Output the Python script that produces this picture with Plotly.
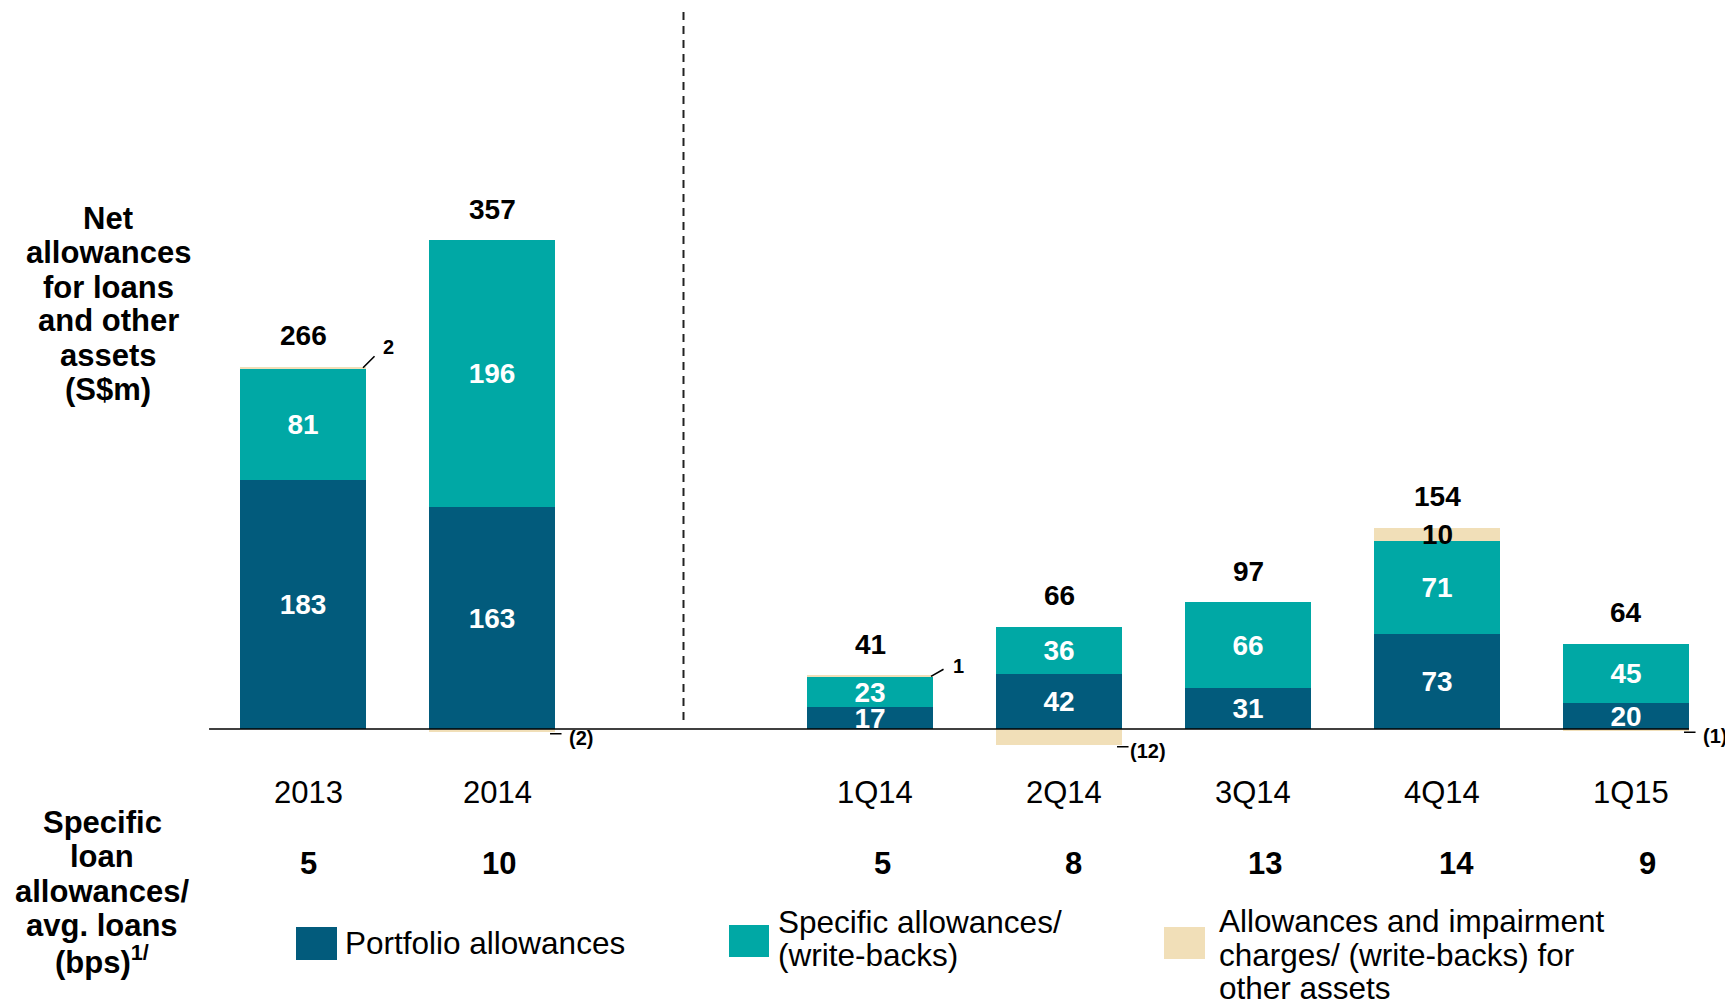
import plotly.graph_objects as go

# ---------------- data ----------------
periods = ["2013", "2014", "1Q14", "2Q14", "3Q14", "4Q14", "1Q15"]
slot = [0, 1, 3, 4, 5, 6, 7]          # column index; column 2 is the divider gap
portfolio = [183, 163, 17, 42, 31, 73, 20]
specific = [81, 196, 23, 36, 66, 71, 45]
other = [2, -2, 1, -12, 0, 10, -1]
totals = [266, 357, 41, 66, 97, 154, 64]
bps = [5, 10, 5, 8, 13, 14, 9]
n_annual = 2                            # first two periods are full years (own scale)
gap_slot = 2

legend_names = ["Portfolio allowances",
                "Specific allowances/<br>(write-backs)",
                "Allowances and impairment<br>charges/ (write-backs) for<br>other assets"]
title_lines = ["Net", "allowances", "for loans", "and other", "assets", "(S$m)"]
bps_title_lines = ["Specific", "loan", "allowances/", "avg. loans", "(bps)<sup>1/</sup>"]

# ---------------- style ----------------
BLUE = "#025B7C"
TEAL = "#00A8A5"
TAN = "#F1DFB8"
FONT = "Arial, 'Liberation Sans', Helvetica, sans-serif"
PAGE_W, PAGE_H = 1733, 1005
OFF = 8                                # default body margin of the page
W, H = PAGE_W - OFF, PAGE_H - OFF
X0_PAGE, SLOT_PX = 303.0, 189.0        # page pixel of slot 0 centre, pixels per slot
Y0_PAGE = 729.0                        # page pixel of the zero line
SCALE_ANNUAL, SCALE_QTR = 1.362, 1.308  # pixels per S$m
BAR_W = 0.667


def py(p):   # page pixel row -> paper y
    return 1 - (p - OFF) / H


def px(p):   # page pixel column -> paper x
    return (p - OFF) / W


def bold(s):
    return f"<b>{s}</b>"


groups = [(list(range(n_annual)), "y"), (list(range(n_annual, len(periods))), "y2")]

fig = go.Figure()
for values, name, color in [(portfolio, legend_names[0], BLUE),
                            (specific, legend_names[1], TEAL),
                            (other, legend_names[2], TAN)]:
    for idx, yax in groups:
        lab = color != TAN
        fig.add_bar(x=[slot[i] for i in idx], y=[values[i] for i in idx], yaxis=yax,
                    name=name, marker_color=color, marker_line_width=0, width=BAR_W,
                    text=[bold(values[i]) for i in idx] if lab else None,
                    textposition="inside" if lab else "none",
                    insidetextanchor="middle", textangle=0,
                    textfont=dict(color="white", size=28, family=FONT),
                    showlegend=False)

ann = []


def seg(x, y, yref, dx0, dy0, dx1, dy1):
    return dict(x=x, y=y, xref="x", yref=yref, xshift=dx0, yshift=-dy0,
                ax=dx1 - dx0, ay=dy1 - dy0, axref="pixel", ayref="pixel",
                text="", showarrow=True, arrowhead=0, arrowwidth=1.6,
                arrowcolor="black", standoff=0, startstandoff=0)


# leader styles for small positive "other" values: (line start, line end, text centre)
leader_pos = {"2013": ((-3, 1), (10, -12), (22, -20)),
              "1Q14": ((-2, 1), (12, -7), (25, -9))}

for i, (s, per, p, sp, o, t) in enumerate(zip(slot, periods, portfolio, specific, other, totals)):
    yref = "y" if i < n_annual else "y2"
    top = p + sp + max(o, 0)
    # total on top
    ann.append(dict(x=s, y=top, xref="x", yref=yref, text=bold(t), showarrow=False,
                    yanchor="middle", yshift=31, font=dict(size=28, color="black", family=FONT)))
    right = s + BAR_W / 2
    if o >= 5:
        ann.append(dict(x=s, y=p + sp + o / 2, xref="x", yref=yref, text=bold(o), showarrow=False,
                        yanchor="middle", font=dict(size=28, color="black", family=FONT)))
    elif o > 0:
        (a0, a1), (b0, b1), (c0, c1) = leader_pos.get(per, ((-2, 1), (11, -9), (23, -14)))
        ann.append(seg(right, top, yref, a0, a1, b0, b1))
        ann.append(dict(x=right, y=top, xref="x", yref=yref, text=bold(o), showarrow=False,
                        xanchor="center", yanchor="middle", xshift=c0, yshift=-c1,
                        font=dict(size=20, color="black", family=FONT)))
    elif o < 0:
        ann.append(seg(right, o, yref, -5, 2, 8, 2))
        ann.append(dict(x=right, y=o, xref="x", yref=yref, text=bold(f"({-o})"), showarrow=False,
                        xanchor="center", yanchor="middle", xshift=26, yshift=-6,
                        font=dict(size=20, color="black", family=FONT)))

# category labels and bps row
for s, lab, b in zip(slot, periods, bps):
    ann.append(dict(x=s, y=py(792), xref="x", yref="paper", text=lab, showarrow=False,
                    xshift=5, yanchor="middle", font=dict(size=31, color="black", family=FONT)))
    ann.append(dict(x=s, y=py(863), xref="x", yref="paper", text=bold(b), showarrow=False,
                    xshift=5 + 2.4 * s, yanchor="middle", font=dict(size=31, color="black", family=FONT)))

# left titles
for i, line in enumerate(title_lines):
    ann.append(dict(x=px(108), y=py(219 + 34 * i), xref="paper", yref="paper", text=bold(line),
                    showarrow=False, xanchor="center", yanchor="middle",
                    font=dict(size=31, color="black", family=FONT)))
for i, line in enumerate(bps_title_lines):
    ann.append(dict(x=px(102), y=py(822 + 34.5 * i), xref="paper", yref="paper", text=bold(line),
                    showarrow=False, xanchor="center", yanchor="middle",
                    font=dict(size=31, color="black", family=FONT)))

# custom legend
shapes = []
leg_swatch = [(296, 337, 927, 960), (729, 769, 925, 957), (1164, 1205, 927, 959)]
leg_text = [(343, [943]), (776, [922, 955]), (1217, [921, 955, 988])]
for (x0, x1, y0, y1), color, (tx, ys), name in zip(leg_swatch, [BLUE, TEAL, TAN], leg_text, legend_names):
    shapes.append(dict(type="rect", xref="paper", yref="paper", x0=px(x0), x1=px(x1),
                       y0=py(y1), y1=py(y0), fillcolor=color, line_width=0))
    for yy, part in zip(ys, name.split("<br>")):
        ann.append(dict(x=px(tx), y=py(yy), xref="paper", yref="paper", text=part, showarrow=False,
                        xanchor="left", yanchor="middle", font=dict(size=31.5, color="black", family=FONT)))

# baseline and divider
shapes.append(dict(type="line", xref="x", yref="y", x0=slot[0] - 0.497, x1=slot[-1] + BAR_W / 2,
                   y0=0, y1=0, line=dict(color="black", width=1.6), layer="above"))
shapes.append(dict(type="line", xref="paper", yref="paper", x0=px(683.5), x1=px(683.5),
                   y0=py(12), y1=py(722), line=dict(color="#222222", width=2, dash="8px,6px")))

x_range = [(OFF - X0_PAGE) / SLOT_PX, (PAGE_W - X0_PAGE) / SLOT_PX]


def y_range(scale):
    return [-(PAGE_H - Y0_PAGE) / scale, (Y0_PAGE - OFF) / scale]


fig.update_layout(
    width=W, height=H, barmode="relative", bargap=0,
    margin=dict(l=0, r=0, t=0, b=0, pad=0),
    paper_bgcolor="white", plot_bgcolor="white",
    font=dict(family=FONT, color="black"),
    uniformtext=dict(mode="show", minsize=28),
    xaxis=dict(range=x_range, visible=False, fixedrange=True),
    yaxis=dict(range=y_range(SCALE_ANNUAL), visible=False, autorange=False),
    yaxis2=dict(range=y_range(SCALE_QTR), visible=False, autorange=False,
                overlaying="y", side="right"),
    annotations=ann, shapes=shapes, showlegend=False,
)

fig.write_html("out.html")
